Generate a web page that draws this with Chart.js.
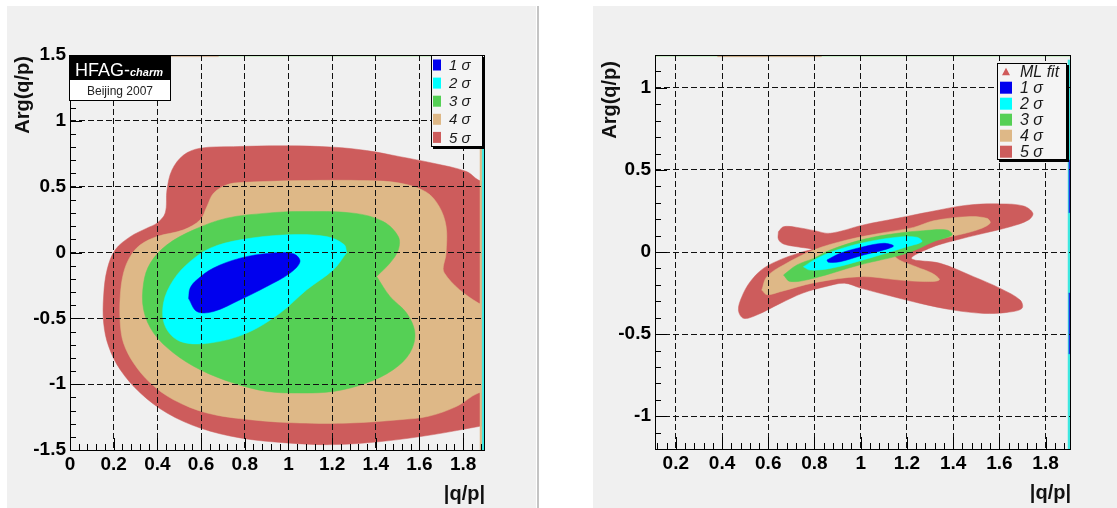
<!DOCTYPE html>
<html>
<head>
<meta charset="utf-8">
<script src="https://cdn.jsdelivr.net/npm/chart.js@4.4.1/dist/chart.umd.min.js"></script>
<style>
    html, body { margin: 0; width: 1117px; height: 508px; background: #fff; overflow: hidden; }
    .pad { position: absolute; top: 6px; height: 502px; background: #f0f0f0; }
    #pad-left { left: 7px; width: 529px; }
    #pad-right { left: 593px; width: 524px; }
    #divider { position: absolute; left: 537px; top: 6px; width: 2px; height: 502px; background: #c4c4c4; }
    canvas { display: block; }
</style>
</head>
<body>
<div class="pad" id="pad-left"><canvas id="chart-left" width="529" height="502"></canvas></div>
<div id="divider"></div>
<div class="pad" id="pad-right"><canvas id="chart-right" width="524" height="502"></canvas></div>

<script>
// Axis ranges and tick labels
const leftXRange = [0, 1.9];
const leftYRange = [-1.5, 1.5];
const leftXTicks = [0, 0.2, 0.4, 0.6, 0.8, 1, 1.2, 1.4, 1.6, 1.8];
const leftYTicks = [-1.5, -1, -0.5, 0, 0.5, 1, 1.5];

const rightXRange = [0.11, 1.91];
const rightYRange = [-1.2, 1.2];
const rightXTicks = [0.2, 0.4, 0.6, 0.8, 1, 1.2, 1.4, 1.6, 1.8];
const rightYTicks = [-1, -0.5, 0, 0.5, 1];

const sigmaLabels = ['1 σ', '2 σ', '3 σ', '4 σ', '5 σ'];
const sigmaColors = ['#0000ee', '#00ffff', '#55d055', '#deb887', '#cd5c5c'];
const fitLabel = 'ML fit';

// Contour outlines, points are [|q/p|, Arg(q/p)]
const left1s = [[0.543, -0.35], [0.55, -0.27], [0.581, -0.207], [0.657, -0.118], [0.779, -0.043], [0.916, -0.005],
    [1.023, -0.01], [1.053, -0.068], [1.008, -0.156], [0.901, -0.258], [0.779, -0.359], [0.657, -0.448],
    [0.581, -0.448], [0.543, -0.35]];
const left2s = [[1.267, 0.0], [1.206, -0.131], [1.084, -0.283], [0.962, -0.46], [0.81, -0.612], [0.642, -0.687],
    [0.505, -0.675], [0.436, -0.561], [0.428, -0.384], [0.474, -0.207], [0.55, -0.068], [0.642, 0.033],
    [0.779, 0.096], [0.992, 0.134], [1.175, 0.121], [1.255, 0.06], [1.267, 0.0]];
const left3s = [[1.404, -0.182], [1.465, -0.08], [1.503, 0.02], [1.503, 0.121], [1.434, 0.235], [1.297, 0.299],
    [1.053, 0.311], [0.901, 0.299], [0.718, 0.261], [0.566, 0.172], [0.444, 0.058], [0.368, -0.08],
    [0.337, -0.232], [0.337, -0.435], [0.383, -0.612], [0.474, -0.763], [0.596, -0.89], [0.748, -0.991],
    [0.901, -1.055], [1.053, -1.067], [1.206, -1.055], [1.358, -0.991], [1.48, -0.89], [1.556, -0.763],
    [1.579, -0.612], [1.541, -0.46], [1.465, -0.334], [1.404, -0.182]];
const left4s = [[1.95, -1.06], [1.87, -1.067], [1.771, -1.168], [1.641, -1.244], [1.51, -1.27], [1.282, -1.295],
    [1.053, -1.295], [0.825, -1.27], [0.627, -1.219], [0.474, -1.118], [0.368, -0.991], [0.291, -0.839],
    [0.245, -0.687], [0.23, -0.536], [0.23, -0.334], [0.245, -0.156], [0.276, -0.03], [0.322, 0.058],
    [0.398, 0.121], [0.52, 0.172], [0.596, 0.248], [0.627, 0.35], [0.657, 0.45], [0.718, 0.514],
    [0.779, 0.531], [1.053, 0.546], [1.358, 0.546], [1.51, 0.527], [1.63, 0.46], [1.69, 0.35],
    [1.722, 0.197], [1.722, -0.005], [1.714, -0.156], [1.87, -0.384], [1.95, -0.39]];
const left5s = [[1.95, -1.3], [1.876, -1.32], [1.663, -1.383], [1.434, -1.434], [1.206, -1.459], [0.992, -1.446],
    [0.779, -1.408], [0.596, -1.333], [0.444, -1.219], [0.322, -1.067], [0.23, -0.89], [0.177, -0.713],
    [0.154, -0.535], [0.154, -0.33], [0.17, -0.13], [0.207, 0.02], [0.276, 0.12], [0.352, 0.185],
    [0.398, 0.223], [0.436, 0.3], [0.444, 0.476], [0.467, 0.627], [0.52, 0.74], [0.596, 0.792],
    [0.748, 0.804], [0.99, 0.81], [1.206, 0.8], [1.358, 0.774], [1.51, 0.728], [1.663, 0.678],
    [1.815, 0.615], [1.87, 0.55], [1.95, 0.5]];

// slivers the fit left along the pad edges
const leftEdgeTan = [[1.876, -1.6], [1.886, -1.6], [1.886, 0.82], [1.876, 0.82]];
const leftEdgeCyan = [[1.886, -1.6], [1.93, -1.6], [1.93, 0.8], [1.886, 0.8]];
const leftTopTan = [[0.45, 1.488], [0.68, 1.488], [0.68, 1.6], [0.45, 1.6]];
const leftTopGreen = [[0.68, 1.491], [1.7, 1.491], [1.7, 1.6], [0.68, 1.6]];

const right1s = [[0.854, -0.049], [0.911, -0.008], [1.012, 0.032], [1.099, 0.053], [1.142, 0.037], [1.099, 0.012],
    [1.012, -0.018], [0.911, -0.059], [0.86, -0.062], [0.854, -0.049]];
const right2s = [[0.752, -0.09], [0.81, -0.039], [0.897, 0.012], [1.012, 0.057], [1.157, 0.09], [1.243, 0.09],
    [1.265, 0.063], [1.2, 0.032], [1.084, -0.018], [0.984, -0.059], [0.868, -0.1], [0.781, -0.11], [0.752, -0.09]];
const right3s = [[0.666, -0.14], [0.724, -0.079], [0.796, -0.039], [0.868, 0.012], [1.012, 0.077], [1.157, 0.114],
    [1.272, 0.13], [1.373, 0.134], [1.395, 0.104], [1.315, 0.063], [1.2, -0.008], [0.995, -0.079],
    [0.796, -0.16], [0.695, -0.18], [0.666, -0.14]];
const right4s = [[0.572, -0.232], [0.594, -0.15], [0.666, -0.079], [0.796, 0.012], [0.94, 0.073], [1.084, 0.114],
    [1.229, 0.15], [1.315, 0.19], [1.46, 0.215], [1.546, 0.205], [1.56, 0.175], [1.503, 0.134],
    [1.387, 0.093], [1.28, 0.06], [1.17, 0.02], [1.15, -0.03], [1.24, -0.09], [1.31, -0.13],
    [1.34, -0.17], [1.28, -0.18], [1.17, -0.171], [1.0, -0.15], [0.8, -0.187], [0.652, -0.242],
    [0.594, -0.26], [0.572, -0.232]];
const right5s = [[0.644, 0.124], [0.666, 0.154], [0.724, 0.15], [0.8, 0.13], [0.868, 0.114], [1.012, 0.165],
    [1.157, 0.205], [1.3, 0.245], [1.46, 0.285], [1.604, 0.293], [1.705, 0.28], [1.745, 0.236],
    [1.726, 0.195], [1.647, 0.154], [1.532, 0.114], [1.402, 0.069], [1.301, 0.025], [1.22, -0.04],
    [1.344, -0.069], [1.488, -0.15], [1.604, -0.222], [1.69, -0.293], [1.698, -0.343], [1.633, -0.368],
    [1.532, -0.374], [1.402, -0.354], [1.258, -0.313], [1.113, -0.262], [1.0, -0.22], [0.93, -0.19],
    [0.85, -0.21], [0.75, -0.25], [0.652, -0.313], [0.55, -0.384], [0.493, -0.404], [0.471, -0.354],
    [0.486, -0.272], [0.522, -0.181], [0.579, -0.1], [0.666, -0.039], [0.752, 0.002], [0.789, 0.016],
    [0.724, 0.032], [0.666, 0.049], [0.644, 0.077], [0.644, 0.124]];

const rightEdgeCyan = [[1.896, -1.3], [1.95, -1.3], [1.95, 1.17], [1.896, 1.17]];
const rightEdgeBlueHi = [[1.9, 0.24], [1.906, 0.24], [1.906, 0.56], [1.9, 0.56]];
const rightEdgeBlueLo = [[1.9, -0.62], [1.906, -0.62], [1.906, -0.25], [1.9, -0.25]];
const rightTopGreen = [[0.0, 1.192], [2.0, 1.192], [2.0, 1.3], [0.0, 1.3]];
const rightTopTan = [[0.38, 1.19], [0.83, 1.19], [0.83, 1.3], [0.38, 1.3]];

const FONT = '"Liberation Sans", Arial, Helvetica, sans-serif';

function region(label, pts, color, tension = 0.35) {
    return {
        label,
        data: pts.map(([x, y]) => ({ x, y })),
        showLine: true,
        fill: 'shape',
        backgroundColor: color,
        borderColor: color,
        borderWidth: 0.5,
        pointRadius: 0,
        tension,
    };
}

function ticksFrom(values) {
    return scale => { scale.ticks = values.map(value => ({ value })); };
}

function steps(min, max, step) {
    const out = [];
    for (let i = Math.ceil(min / step - 1e-6); i * step <= max + 1e-6; i++) out.push(i * step);
    return out;
}

// ROOT-style pad: frame, inward ticks, axis titles, legend, badge
const rootPad = {
    id: 'rootPad',
    afterDraw(chart, args, o) {
        const { ctx, chartArea: a, scales: { x, y } } = chart;
        ctx.save();
        ctx.strokeStyle = '#000';
        ctx.lineWidth = 1;
        ctx.beginPath();
        for (const v of steps(x.min, x.max, o.xMinor)) {
            const px = Math.round(x.getPixelForValue(v)) + 0.5;
            const len = o.xTicks.some(t => Math.abs(t - v) < 1e-6) ? 12 : 6;
            ctx.moveTo(px, a.bottom);
            ctx.lineTo(px, a.bottom - len);
        }
        for (const v of steps(y.min, y.max, o.yMinor)) {
            const py = Math.round(y.getPixelForValue(v)) + 0.5;
            const len = o.yTicks.some(t => Math.abs(t - v) < 1e-6) ? 12 : 6;
            ctx.moveTo(a.left, py);
            ctx.lineTo(a.left + len, py);
        }
        ctx.stroke();
        ctx.strokeRect(Math.round(a.left) + 0.5, Math.round(a.top) + 0.5,
            Math.round(a.right - a.left) - 1, Math.round(a.bottom - a.top));

        // axis titles
        ctx.fillStyle = '#111';
        ctx.font = `bold 20px ${FONT}`;
        ctx.textBaseline = 'middle';
        ctx.textAlign = 'right';
        ctx.fillText(o.xTitle, a.right, a.bottom + 44);
        ctx.save();
        ctx.translate(a.left - o.yTitleOffset, a.top + o.yTitleTop);
        ctx.rotate(-Math.PI / 2);
        ctx.fillText(o.yTitle, 0, 0);
        ctx.restore();

        // legend box with shadow
        const L = o.legend;
        const lx = a.right - L.right - L.w, ly = a.top + L.top;
        ctx.fillStyle = '#000';
        ctx.fillRect(lx + 2, ly + 2, L.w, L.h);
        ctx.fillStyle = '#f4f4f4';
        ctx.fillRect(lx, ly, L.w, L.h);
        ctx.strokeRect(lx + 0.5, ly + 0.5, L.w - 1, L.h - 1);
        ctx.textAlign = 'left';
        ctx.font = `italic ${L.size}px ${FONT}`;
        L.items.forEach((it, i) => {
            const cy = ly + L.first + i * L.step;
            ctx.fillStyle = it.color;
            if (it.marker === 'triangle') {
                const cx = lx + L.sx + L.sw / 2;
                ctx.beginPath();
                ctx.moveTo(cx, cy - 4);
                ctx.lineTo(cx + 4, cy + 3.5);
                ctx.lineTo(cx - 4, cy + 3.5);
                ctx.closePath();
                ctx.fill();
            } else {
                ctx.fillRect(lx + L.sx, cy - L.sh / 2, L.sw, L.sh);
            }
            ctx.fillStyle = '#1a1a1a';
            ctx.fillText(it.text, lx + L.tx, cy + 1);
        });

        // collaboration badge
        if (o.badge) {
            const bx = a.left - 1, by = a.top, bw = 102;
            ctx.fillStyle = '#000';
            ctx.fillRect(bx, by, bw, 24);
            ctx.fillStyle = '#fff';
            ctx.fillRect(bx, by + 24, bw, 22);
            ctx.strokeRect(bx + 0.5, by + 24.5, bw - 1, 21);
            ctx.textBaseline = 'alphabetic';
            ctx.font = `18px ${FONT}`;
            ctx.fillText(o.badge[0], bx + 6, by + 21);
            const w = ctx.measureText(o.badge[0]).width;
            ctx.font = `italic bold 11px ${FONT}`;
            ctx.fillText(o.badge[1], bx + 6 + w, by + 21);
            ctx.fillStyle = '#222';
            ctx.font = `12px ${FONT}`;
            ctx.textAlign = 'center';
            ctx.fillText(o.badge[2], bx + bw / 2, by + 40);
        }
        ctx.restore();
    }
};

function axis(range, ticks, size, side) {
    return {
        type: 'linear',
        min: range[0],
        max: range[1],
        afterBuildTicks: ticksFrom(ticks),
        afterFit: side === 'x' ? s => { s.height = size; } : s => { s.width = size; },
        grid: { color: '#111', lineWidth: 1, drawTicks: false, z: 1 },
        border: { display: false, dash: [6, 3] },
        ticks: {
            autoSkip: false,
            maxRotation: 0,
            padding: side === 'x' ? 3 : 4,
            color: '#000',
            font: { family: FONT, size: 19, weight: 'bold' },
            callback: v => String(v),
        },
    };
}

function makePad(id, cfg) {
    const canvas = document.getElementById(id);
    return new Chart(canvas, {
        type: 'scatter',
        data: { datasets: cfg.datasets },
        options: {
            responsive: false,
            animation: false,
            events: [],
            layout: { padding: { top: cfg.area.top, right: canvas.width - cfg.area.right, left: 0, bottom: 0 } },
            plugins: { legend: { display: false }, tooltip: { enabled: false }, rootPad: cfg.pad },
            scales: {
                x: axis(cfg.xRange, cfg.xTicks, canvas.height - cfg.area.bottom, 'x'),
                y: axis(cfg.yRange, cfg.yTicks, cfg.area.left, 'y'),
            },
        },
        plugins: [rootPad],
    });
}

const sigmaItems = sigmaLabels.map((text, i) => ({ text, color: sigmaColors[i] }));

makePad('chart-left', {
    area: { left: 63, top: 49, right: 478, bottom: 444 },
    xRange: leftXRange, yRange: leftYRange, xTicks: leftXTicks, yTicks: leftYTicks,
    datasets: [
        region('', leftTopGreen, '#a6e3a0', 0),
        region('', leftTopTan, '#c9a47c', 0),
        region('', leftEdgeCyan, '#3ee8e0', 0),
        region('', leftEdgeTan, '#deb887', 0),
        region(sigmaLabels[0], left1s, sigmaColors[0]),
        region(sigmaLabels[1], left2s, sigmaColors[1]),
        region(sigmaLabels[2], left3s, sigmaColors[2]),
        region(sigmaLabels[3], left4s, sigmaColors[3]),
        region(sigmaLabels[4], left5s, sigmaColors[4]),
    ],
    pad: {
        xMinor: 0.04, yMinor: 0.1, xTicks: leftXTicks, yTicks: leftYTicks,
        xTitle: '|q/p|', yTitle: 'Arg(q/p)', yTitleOffset: 47, yTitleTop: 1,
        legend: { right: 2, top: 0, w: 52, h: 92, first: 10, step: 18.1, sx: 2, sw: 8, sh: 11, tx: 18, size: 15, items: sigmaItems },
        badge: ['HFAG-', 'charm', 'Beijing 2007'],
    },
});

makePad('chart-right', {
    area: { left: 62, top: 49, right: 478, bottom: 443 },
    xRange: rightXRange, yRange: rightYRange, xTicks: rightXTicks, yTicks: rightYTicks,
    datasets: [
        region('', rightTopTan, '#c9a47c', 0),
        region('', rightTopGreen, '#a6e3a0', 0),
        region('', rightEdgeBlueHi, '#2030e0', 0),
        region('', rightEdgeBlueLo, '#2030e0', 0),
        region('', rightEdgeCyan, '#3ee8e0', 0),
        region(sigmaLabels[0], right1s, sigmaColors[0]),
        region(sigmaLabels[1], right2s, sigmaColors[1]),
        region(sigmaLabels[2], right3s, sigmaColors[2]),
        region(sigmaLabels[3], right4s, sigmaColors[3]),
        region(sigmaLabels[4], right5s, sigmaColors[4]),
    ],
    pad: {
        xMinor: 0.04, yMinor: 0.1, xTicks: rightXTicks, yTicks: rightYTicks,
        xTitle: '|q/p|', yTitle: 'Arg(q/p)', yTitleOffset: 45, yTitleTop: 6,
        legend: {
            right: 4, top: 8, w: 70, h: 97, first: 8.7, step: 16, sx: 3, sw: 12, sh: 12, tx: 23, size: 16,
            items: [{ text: fitLabel, color: '#d05a5a', marker: 'triangle' }, ...sigmaItems],
        },
    },
});
</script>
</body>
</html>
